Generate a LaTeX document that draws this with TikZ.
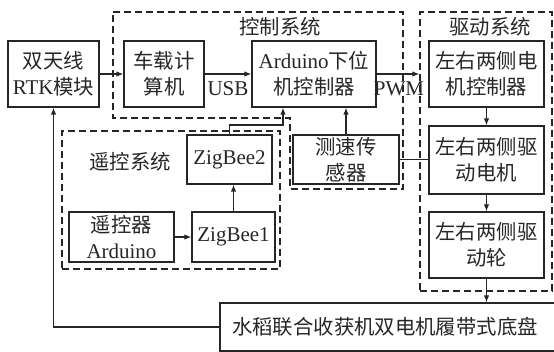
\documentclass[tikz,border=0pt]{standalone}
\usepackage{fontspec}
\setmainfont{Liberation Serif}
\newfontfamily\cjk[Scale=0.97]{Noto Sans CJK SC}
\usetikzlibrary{arrows.meta}
\newcommand\myfs{\fontsize{21}{26}\selectfont}
\begin{document}
\begin{tikzpicture}[x=1pt,y=-1pt,
  line width=1.2pt, draw=black!85,
  box/.style={draw=black!85, line width=1.2pt, inner sep=0pt, align=center, font=\myfs, text=black!85},
  sysbox/.style={draw=black!85, line width=1.2pt, dash pattern=on 7pt off 4pt, inner sep=0pt},
  lbl/.style={inner sep=0pt, font=\myfs, text=black!85},
  arr/.style={draw=black!85, line width=1.2pt, -{Latex[length=7pt,width=5.5pt]}},
  ln/.style={draw=black!85, line width=1.2pt}]
\useasboundingbox (0,0) rectangle (554,352);

% system frames
\node[sysbox, minimum width=132pt, minimum height=279pt] (drivesys) at (486,151.5) {};
\node[sysbox, minimum width=218pt, minimum height=138pt] (remotesys) at (171,200) {};
\coordinate (c1) at (113,12);
\coordinate (c2) at (403,12);
\coordinate (c3) at (403,189);
\coordinate (c4) at (290,189);
\coordinate (c5) at (290,118);
\coordinate (c6) at (113,118);
\draw[sysbox] (c1) -- (c2) -- (c3) -- (c4) -- (c5) -- (c6) -- cycle;

\node[lbl] (lctrl) at (280,27) {\cjk 控制系统};
\node[lbl] (ldrive) at (490,27) {\cjk 驱动系统};
\node[lbl] (lremote) at (130,162) {\cjk 遥控系统};

% blocks
\node[box, minimum width=91pt, minimum height=66pt] (rtk) at (53.5,74) {{\cjk 双天线}\\RTK{\cjk 模块}};
\node[box, minimum width=80pt, minimum height=66pt] (car) at (164,74) {\cjk 车载计\\\cjk 算机};
\node[box, minimum width=124pt, minimum height=66pt] (ard) at (314,74) {Arduino{\cjk 下位}\\{\cjk 机控制器}};
\node[box, minimum width=115pt, minimum height=66pt] (ctrl) at (486.5,74) {\cjk 左右两侧电\\\cjk 机控制器};
\node[box, minimum width=115pt, minimum height=68pt] (motor) at (486.5,160) {\cjk 左右两侧驱\\\cjk 动电机};
\node[box, minimum width=115pt, minimum height=66pt] (wheel) at (486.5,245) {\cjk 左右两侧驱\\\cjk 动轮};
\node[box, minimum width=106pt, minimum height=49pt] (sensor) at (346,159.5) {\cjk 测速传\\\cjk 感器};
\node[box, minimum width=85pt, minimum height=49pt] (zb2) at (229.5,159.5) {ZigBee2};
\node[box, minimum width=83pt, minimum height=50pt] (zb1) at (233.5,237) {ZigBee1};
\node[box, minimum width=105pt, minimum height=50pt] (rc) at (121.5,237) {{\cjk 遥控器}\\Arduino};
\node[box, minimum width=340pt, minimum height=48pt] (chassis) at (390,327) {\hspace*{-10pt}\cjk 水稻联合收获机双电机履带式底盘};

% connectors
\draw[arr] (rtk) -- (car);
\draw[arr] (car) -- node[lbl, below=7pt] (usb) {USB} (ard);
\draw[arr] (ard.east) -- (ard.east -| drivesys.west);
\node[lbl] (pwm) at (399,89) {PWM};
\draw[arr] (ctrl) -- (motor);
\draw[arr] (motor) -- (wheel);
\draw[arr] (wheel.south) -- (wheel.south |- chassis.north);
\draw[arr] (chassis.west) -| (rtk.south);
\draw[arr] (sensor.north) -- (sensor.north |- ard.south);
\draw[ln] (sensor.east) -- (sensor.east -| motor.west);
\coordinate (j) at (283,125);
\draw[arr] (zb2.north) |- (j) -- (j |- ard.south);
\draw[arr] (zb1.north) -- (zb1.north |- zb2.south);
\draw[arr] (rc) -- (zb1);
\end{tikzpicture}
\end{document}
